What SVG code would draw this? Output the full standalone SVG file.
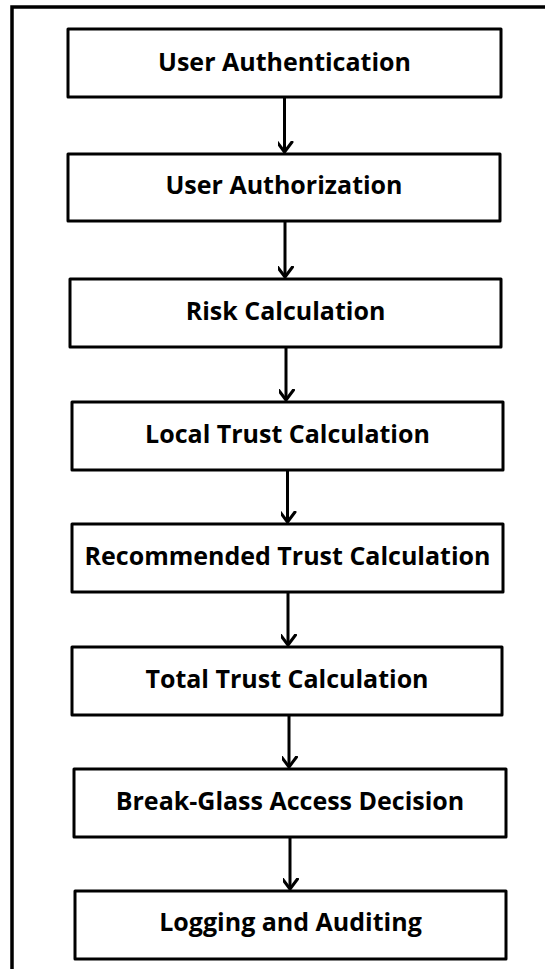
<svg xmlns="http://www.w3.org/2000/svg" width="545" height="969" viewBox="0 0 545 969">
  <style>
    .frame { fill: none; stroke: #000; stroke-width: 3.5; }
    .box { fill: #fff; stroke: #000; stroke-width: 3; stroke-linejoin: round; }
    .label { font-family: "Open Sans", "Noto Sans", "Liberation Sans", sans-serif; font-weight: 700; font-size: 25px; fill: #000; text-anchor: middle; }
    .link { fill: none; stroke: #000; stroke-width: 3; }
  </style>
  <defs>
    <marker id="chevron" markerUnits="userSpaceOnUse" markerWidth="22" markerHeight="22" viewBox="-11 -15 22 22" refX="0" refY="0" orient="auto-start-reverse">
      <path d="M-7.5,-10 L0,0 L7.5,-10" transform="rotate(-90)" fill="none" stroke="#000" stroke-width="3" stroke-linecap="round" stroke-linejoin="round"/>
    </marker>
  </defs>

  <rect width="545" height="969" fill="#fff"/>
  <!-- outer frame, running past the right and bottom edges -->
  <rect class="frame" x="12" y="7" width="600" height="1000"/>

  <g id="connectors">
    <line class="link" x1="284.5" y1="97" x2="284.5" y2="152" marker-end="url(#chevron)"/>
    <line class="link" x1="285" y1="221" x2="285" y2="277" marker-end="url(#chevron)"/>
    <line class="link" x1="286" y1="347" x2="286" y2="400" marker-end="url(#chevron)"/>
    <line class="link" x1="287.5" y1="470" x2="287.5" y2="522" marker-end="url(#chevron)"/>
    <line class="link" x1="288" y1="592" x2="288" y2="645" marker-end="url(#chevron)"/>
    <line class="link" x1="289" y1="715" x2="289" y2="767" marker-end="url(#chevron)"/>
    <line class="link" x1="290" y1="837" x2="290" y2="889" marker-end="url(#chevron)"/>
  </g>

  <g id="user-authentication">
    <rect class="box" x="68" y="29" width="433" height="68"/>
    <text class="label" x="284.5" y="71">User Authentication</text>
  </g>
  <g id="user-authorization">
    <rect class="box" x="68" y="154" width="432" height="67"/>
    <text class="label" x="284" y="194">User Authorization</text>
  </g>
  <g id="risk-calculation">
    <rect class="box" x="70" y="279" width="431" height="68"/>
    <text class="label" x="285.5" y="320">Risk Calculation</text>
  </g>
  <g id="local-trust-calculation">
    <rect class="box" x="72" y="402" width="431" height="68"/>
    <text class="label" x="287.5" y="443">Local Trust Calculation</text>
  </g>
  <g id="recommended-trust-calculation">
    <rect class="box" x="72" y="524" width="431" height="68"/>
    <text class="label" x="287.5" y="565">Recommended Trust Calculation</text>
  </g>
  <g id="total-trust-calculation">
    <rect class="box" x="72" y="647" width="430" height="68"/>
    <text class="label" x="287" y="688">Total Trust Calculation</text>
  </g>
  <g id="break-glass-access-decision">
    <rect class="box" x="74" y="769" width="432" height="68"/>
    <text class="label" x="290" y="810">Break-Glass Access Decision</text>
  </g>
  <g id="logging-and-auditing">
    <rect class="box" x="75" y="891" width="431" height="68"/>
    <text class="label" x="290.5" y="931">Logging and Auditing</text>
  </g>
</svg>
